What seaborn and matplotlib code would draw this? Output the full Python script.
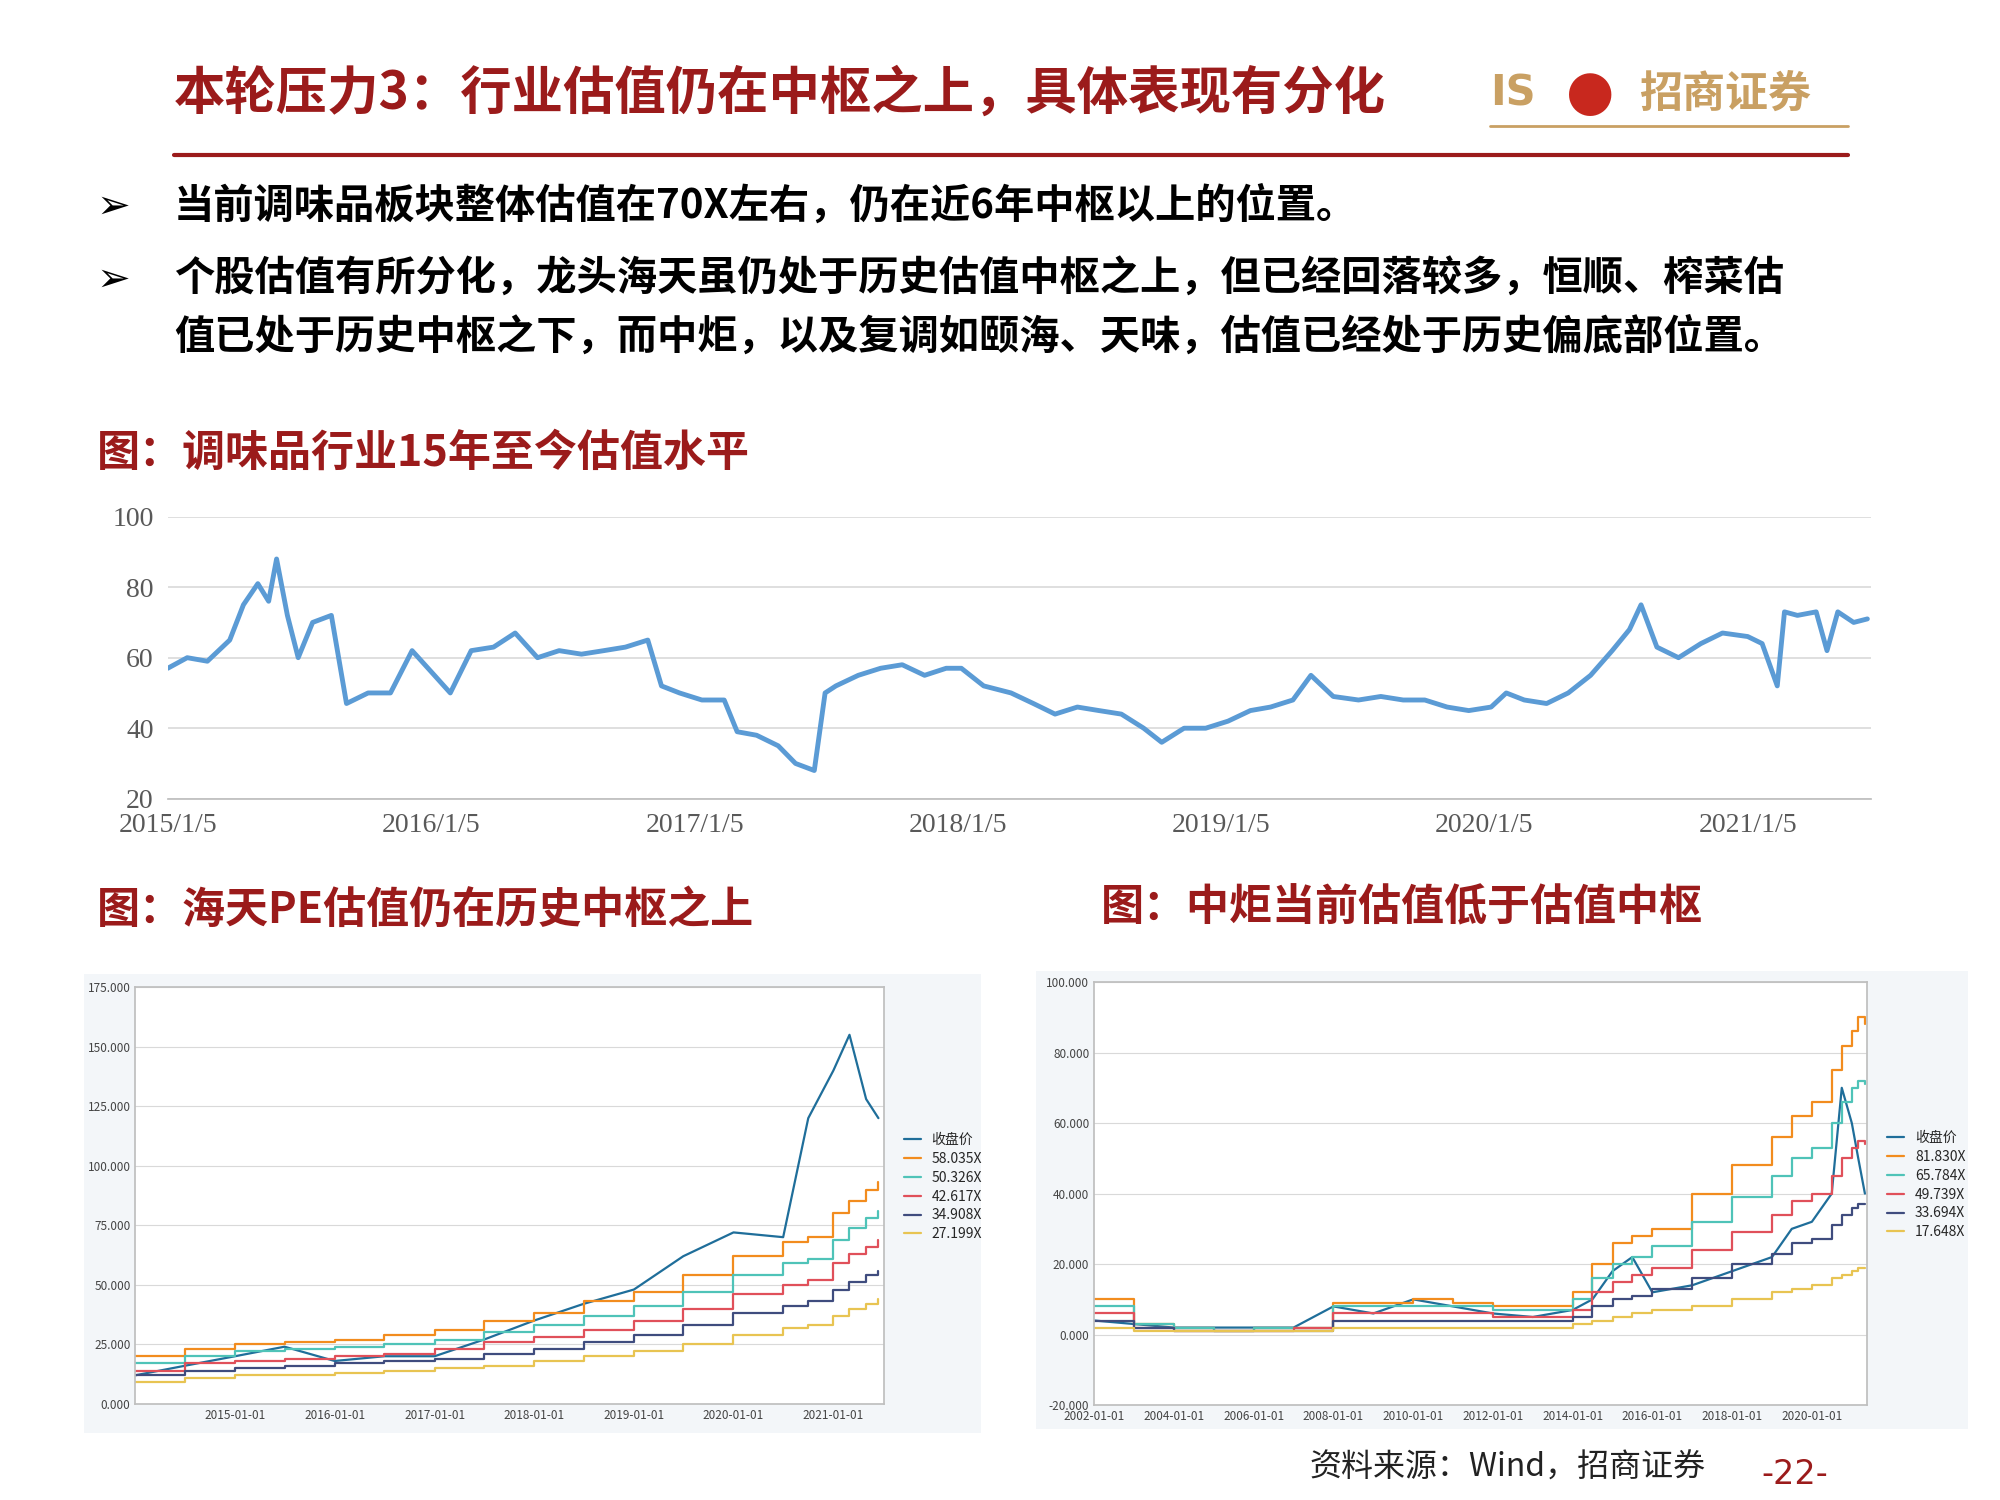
import matplotlib
matplotlib.use("Agg")
import matplotlib.pyplot as plt
import seaborn as sns
import pandas as pd

sns.set_theme(style="white")
plt.rcParams['font.family'] = ['Noto Sans CJK SC', 'DejaVu Sans']
plt.rcParams['axes.unicode_minus'] = False

RED = "#9B1B1B"
GOLD = "#C9A063"

# ---- main chart data (condiment industry PE) ----
main_dates = ["2015-01-05","2015-02-01","2015-03-01","2015-04-01","2015-04-20","2015-05-10","2015-05-25","2015-06-05","2015-06-20","2015-07-05","2015-07-25","2015-08-20","2015-09-10","2015-10-10","2015-11-10","2015-12-10",
 "2016-01-10","2016-02-01","2016-03-01","2016-04-01","2016-05-01","2016-06-01","2016-07-01","2016-08-01","2016-09-01","2016-10-01","2016-11-01","2016-11-20","2016-12-15",
 "2017-01-15","2017-02-15","2017-03-05","2017-04-01","2017-05-01","2017-05-25","2017-06-20","2017-07-05","2017-07-20","2017-08-20","2017-09-20","2017-10-20","2017-11-20","2017-12-20",
 "2018-01-10","2018-02-10","2018-03-20","2018-04-20","2018-05-20","2018-06-20","2018-07-20","2018-08-20","2018-09-20","2018-10-15","2018-11-15","2018-12-15",
 "2019-01-15","2019-02-15","2019-03-15","2019-04-15","2019-05-10","2019-06-10","2019-07-15","2019-08-15","2019-09-15","2019-10-15","2019-11-15","2019-12-15",
 "2020-01-15","2020-02-05","2020-03-01","2020-04-01","2020-05-01","2020-06-01","2020-07-01","2020-07-25","2020-08-10","2020-09-01","2020-10-01","2020-11-01","2020-12-01",
 "2021-01-05","2021-01-25","2021-02-15","2021-02-25","2021-03-15","2021-04-10","2021-04-25","2021-05-10","2021-06-01","2021-06-20"]
main_vals = [57,60,59,65,75,81,76,88,72,60,70,72,47,50,50,62,
 55,50,62,63,67,60,62,61,62,63,65,52,50,
 48,48,39,38,35,30,28,50,52,55,57,58,55,57,
 57,52,50,47,44,46,45,44,40,36,40,40,
 42,45,46,48,55,49,48,49,48,48,46,45,
 46,50,48,47,50,55,62,68,75,63,60,64,67,
 66,64,52,73,72,73,62,73,70,71]

# ---- Haitian chart data ----
ht_dates = ["2014-01-01","2014-07-01","2015-01-01","2015-07-01","2016-01-01","2016-07-01","2017-01-01","2017-07-01","2018-01-01","2018-07-01","2019-01-01","2019-07-01","2020-01-01","2020-07-01","2020-10-01","2021-01-01","2021-03-01","2021-05-01","2021-06-15"]
ht_close = [12,16,20,24,18,20,20,27,35,42,48,62,72,70,120,140,155,128,120]
ht_b58 = [20,23,25,26,27,29,31,35,38,43,47,54,62,68,70,80,85,90,93]
ht_b50 = [17,20,22,23,24,25,27,30,33,37,41,47,54,59,61,69,74,78,81]
ht_b42 = [14,17,18,19,20,21,23,26,28,31,35,40,46,50,52,59,63,66,69]
ht_b34 = [12,14,15,16,17,18,19,21,23,26,29,33,38,41,43,48,51,54,56]
ht_b27 = [9,11,12,12,13,14,15,16,18,20,22,25,29,32,33,37,40,42,44]
ht_labels = ["收盘价","58.035X","50.326X","42.617X","34.908X","27.199X"]

# ---- Zhongju chart data ----
zj_dates = ["2002-01-01","2003-01-01","2004-01-01","2005-01-01","2006-01-01","2007-01-01","2008-01-01","2009-01-01","2010-01-01","2011-01-01","2012-01-01","2013-01-01","2014-01-01","2014-07-01","2015-01-01","2015-07-01","2016-01-01","2017-01-01","2018-01-01","2019-01-01","2019-07-01","2020-01-01","2020-07-01","2020-10-01","2021-01-01","2021-03-01","2021-05-01"]
zj_close = [4,3,2,2,2,2,8,6,10,8,6,5,7,10,18,22,12,14,18,22,30,32,40,70,60,50,40]
zj_b81 = [10,3,2,1,2,2,9,9,10,9,8,8,12,20,26,28,30,40,48,56,62,66,75,82,86,90,88]
zj_b65 = [8,3,2,1,2,2,8,8,8,8,7,7,10,16,20,22,25,32,39,45,50,53,60,66,70,72,71]
zj_b49 = [6,2,1,1,1,2,6,6,6,6,5,5,7,12,15,17,19,24,29,34,38,40,45,50,53,55,54]
zj_b33 = [4,2,1,1,1,1,4,4,4,4,4,4,5,8,10,11,13,16,20,23,26,27,31,34,36,37,37]
zj_b17 = [2,1,1,1,1,1,2,2,2,2,2,2,3,4,5,6,7,8,10,12,13,14,16,17,18,19,19]
zj_labels = ["收盘价","81.830X","65.784X","49.739X","33.694X","17.648X"]

band_colors = ["#1F6E9A","#F28C1E","#4FC3B8","#E0505A","#3F4C7E","#E8C452"]

fig = plt.figure(figsize=(20, 15), dpi=100)
W, H = 1550, 1170
def ax_rect(x0, y0, x1, y1):
    return [x0/W, 1-y1/H, (x1-x0)/W, (y1-y0)/H]

# header
fig.text(135/W, 1-73/H, "本轮压力3：行业估值仍在中枢之上，具体表现有分化", color=RED, fontsize=37, fontweight="bold", va="center")
fig.text(1155/W, 1-73/H, "IS", color=GOLD, fontsize=30, fontweight="bold", va="center", family=["DejaVu Sans"])
fig.text(1232/W, 1-73/H, "●", color="#C8281E", fontsize=40, ha="center", va="center", family=["DejaVu Sans"])
fig.text(1270/W, 1-73/H, "招商证券", color=GOLD, fontsize=31, fontweight="bold", va="center")
fig.add_artist(plt.Line2D([135/W, 1432/W], [1-121/H, 1-121/H], color=RED, lw=3))
fig.add_artist(plt.Line2D([1155/W, 1432/W], [1-98/H, 1-98/H], color=GOLD, lw=2))

bul = dict(fontsize=29, fontweight="bold", va="center", color="black")
fig.text(75/W, 1-161/H, "➢", family=["DejaVu Sans"], **bul)
fig.text(135/W, 1-161/H, "当前调味品板块整体估值在70X左右，仍在近6年中枢以上的位置。", **bul)
fig.text(75/W, 1-218/H, "➢", family=["DejaVu Sans"], **bul)
fig.text(135/W, 1-218/H, "个股估值有所分化，龙头海天虽仍处于历史估值中枢之上，但已经回落较多，恒顺、榨菜估", **bul)
fig.text(135/W, 1-263/H, "值已处于历史中枢之下，而中炬，以及复调如颐海、天味，估值已经处于历史偏底部位置。", **bul)

fig.text(75/W, 1-353/H, "图：调味品行业15年至今估值水平", color=RED, fontsize=31, fontweight="bold", va="center")
fig.text(75/W, 1-710/H, "图：海天PE估值仍在历史中枢之上", color=RED, fontsize=31, fontweight="bold", va="center")
fig.text(853/W, 1-708/H, "图：中炬当前估值低于估值中枢", color=RED, fontsize=31, fontweight="bold", va="center")

# main chart
ax = fig.add_axes(ax_rect(130, 403, 1450, 623))
dfm = pd.DataFrame({"date": pd.to_datetime(main_dates), "pe": main_vals})
sns.lineplot(data=dfm, x="date", y="pe", ax=ax, color="#5B9BD5", lw=3.5)
ax.set_ylim(20, 100)
ax.set_yticks([20, 40, 60, 80, 100])
ax.set_xlim(pd.Timestamp("2015-01-05"), pd.Timestamp("2021-06-25"))
ax.set_xticks(pd.to_datetime([f"{y}-01-05" for y in range(2015, 2022)]))
ax.set_xticklabels([f"{y}/1/5" for y in range(2015, 2022)])
ax.yaxis.grid(True, color="#D9D9D9", lw=1.2)
for s in ["top", "right", "left"]:
    ax.spines[s].set_visible(False)
ax.spines["bottom"].set_color("#BFBFBF")
ax.tick_params(axis="both", labelsize=20, colors="#595959", length=0, pad=10)
for t in ax.get_xticklabels() + ax.get_yticklabels():
    t.set_family(["Liberation Serif"])
ax.set_xlabel(""); ax.set_ylabel("")

def band_chart(rect_panel, rect_ax, dates, series, labels, ylim, yticks, xticks, legend_y):
    bg = fig.add_axes(ax_rect(*rect_panel))
    bg.set_facecolor("#F3F6F9"); bg.set_xticks([]); bg.set_yticks([])
    for s in bg.spines.values(): s.set_visible(False)
    a = fig.add_axes(ax_rect(*rect_ax))
    a.set_facecolor("white")
    d = pd.to_datetime(dates)
    for i, (vals, lab) in enumerate(zip(series, labels)):
        df = pd.DataFrame({"date": d, "v": vals})
        if i == 0:
            sns.lineplot(data=df, x="date", y="v", ax=a, color=band_colors[0], lw=1.6, label=lab)
        else:
            a.step(df["date"], df["v"], where="post", color=band_colors[i], lw=1.6, label=lab)
    a.set_ylim(*ylim); a.set_yticks(yticks)
    a.set_yticklabels([f"{v:.3f}" for v in yticks])
    a.set_xlim(d[0], d[-1] + pd.Timedelta(days=20))
    a.set_xticks(pd.to_datetime(xticks)); a.set_xticklabels(xticks)
    a.yaxis.grid(True, color="#D9D9D9", lw=0.8)
    for s in a.spines.values(): s.set_color("#BFBFBF")
    a.tick_params(labelsize=8.5, colors="#444444", length=0)
    a.set_xlabel(""); a.set_ylabel("")
    a.legend(loc="center left", bbox_to_anchor=(1.01, legend_y), frameon=False, fontsize=10, handlelength=1.2, labelspacing=0.35)
    return a

band_chart((65, 760, 760, 1118), (105, 770, 685, 1095), ht_dates,
           [ht_close, ht_b58, ht_b50, ht_b42, ht_b34, ht_b27], ht_labels,
           (0, 175), [0, 25, 50, 75, 100, 125, 150, 175],
           [f"{y}-01-01" for y in range(2015, 2022)], 0.52)
band_chart((803, 757, 1525, 1115), (848, 766, 1447, 1096), zj_dates,
           [zj_close, zj_b81, zj_b65, zj_b49, zj_b33, zj_b17], zj_labels,
           (-20, 100), [-20, 0, 20, 40, 60, 80, 100],
           [f"{y}-01-01" for y in range(2002, 2022, 2)], 0.52)

fig.text(1015/W, 1-1145/H, "资料来源：Wind，招商证券", fontsize=23, va="center", color="#222222")
fig.text(1365/W, 1-1150/H, "-22-", fontsize=24, va="center", color=RED, family=["DejaVu Sans"])

fig.savefig("out.png", dpi=100, facecolor="white")
